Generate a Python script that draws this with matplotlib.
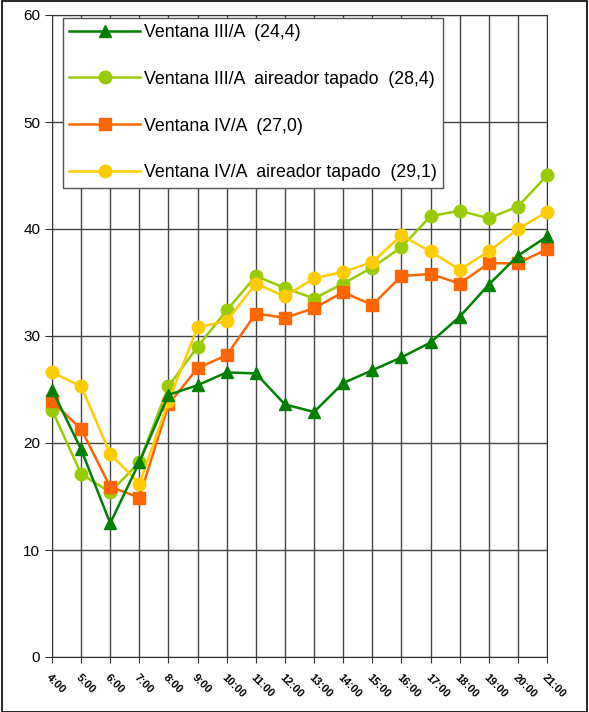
import matplotlib.pyplot as plt
from matplotlib.patches import Rectangle

plt.rcParams['font.family'] = ['Liberation Sans', 'DejaVu Sans']

horas = ['4:00', '5:00', '6:00', '7:00', '8:00', '9:00', '10:00', '11:00', '12:00',
         '13:00', '14:00', '15:00', '16:00', '17:00', '18:00', '19:00', '20:00', '21:00']

v3a = [25.0, 19.4, 12.5, 18.2, 24.5, 25.4, 26.6, 26.5, 23.6,
       22.9, 25.6, 26.8, 28.0, 29.4, 31.8, 34.8, 37.5, 39.3]
v3a_tap = [23.1, 17.1, 15.4, 18.2, 25.3, 29.0, 32.4, 35.6, 34.5,
           33.5, 34.9, 36.4, 38.3, 41.2, 41.7, 41.0, 42.1, 45.0]
v4a = [23.9, 21.3, 15.9, 14.9, 23.6, 27.0, 28.2, 32.1, 31.7,
       32.6, 34.1, 32.9, 35.6, 35.8, 34.9, 36.8, 36.8, 38.1]
v4a_tap = [26.6, 25.3, 19.0, 16.2, 23.9, 30.8, 31.4, 34.9, 33.7,
           35.4, 36.0, 36.9, 39.4, 37.9, 36.2, 37.9, 40.0, 41.6]

x = list(range(len(horas)))

fig = plt.figure(figsize=(5.89, 7.12), dpi=100)
ax = fig.add_axes([52/589, 1-657/712, 495/589, 642/712])

ax.plot(x, v3a, color='#008000', marker='^', ms=9, lw=1.8, label='Ventana III/A  (24,4)', clip_on=False, zorder=4)
ax.plot(x, v3a_tap, color='#99CC00', marker='o', ms=9, lw=1.8, label='Ventana III/A  aireador tapado  (28,4)', clip_on=False, zorder=3)
ax.plot(x, v4a, color='#FF6600', marker='s', ms=8.5, lw=1.8, label='Ventana IV/A  (27,0)', clip_on=False, zorder=3)
ax.plot(x, v4a_tap, color='#FFCC00', marker='o', ms=9, lw=1.8, label='Ventana IV/A  aireador tapado  (29,1)', clip_on=False, zorder=3)

ax.set_xlim(0, 17)
ax.set_ylim(0, 60)
ax.set_yticks(range(0, 61, 10))
ax.set_xticks(x)
ax.set_xticklabels(horas, rotation=-45, ha='left', va='top', rotation_mode='anchor',
                   fontsize=8, fontweight='bold')
ax.tick_params(axis='y', labelsize=11, length=5, color='#333333')
ax.tick_params(axis='x', length=4, color='#333333', pad=7)
ax.grid(True, color='#444444', lw=1)
ax.set_axisbelow(True)
for s in ax.spines.values():
    s.set_color('#333333')

leg = ax.legend(loc='upper left', bbox_to_anchor=(0.022, 0.996), borderaxespad=0,
                fontsize=12.8, labelspacing=1.68, handlelength=4.0, handletextpad=0.2,
                borderpad=0.35, fancybox=False, framealpha=1, edgecolor='#555555')
leg.get_frame().set_linewidth(1)

fig.patches.append(Rectangle((0.003, 0.0), 0.994, 0.999, transform=fig.transFigure,
                             fill=False, edgecolor='black', lw=1.2))

fig.savefig('out.png', dpi=100)
